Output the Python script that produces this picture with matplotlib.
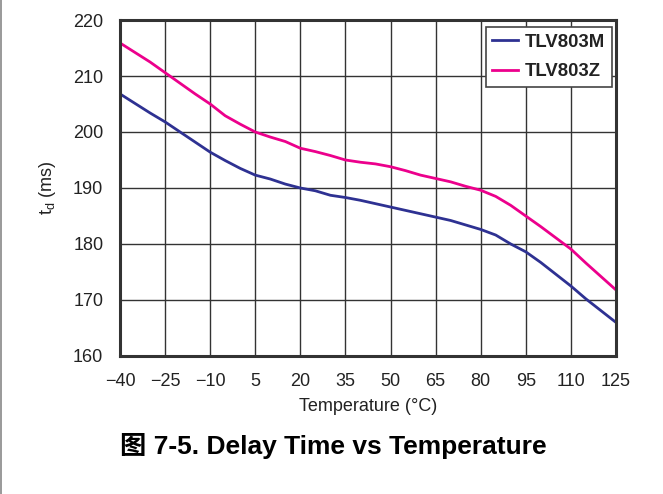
import matplotlib
matplotlib.use("Agg")
import matplotlib.pyplot as plt
from matplotlib.lines import Line2D

# data (5 degC steps)
temperature = [-40, -35, -30, -25, -20, -15, -10, -5, 0, 5, 10, 15, 20, 25, 30, 35, 40,
               45, 50, 55, 60, 65, 70, 75, 80, 85, 90, 95, 100, 105, 110, 115, 120, 125]
tlv803m = [206.8, 205.1, 203.4, 201.8, 200.0, 198.2, 196.4, 194.9, 193.5, 192.3, 191.6,
           190.7, 190.0, 189.5, 188.7, 188.3, 187.8, 187.2, 186.6, 186.0, 185.4, 184.8,
           184.2, 183.4, 182.6, 181.6, 180.0, 178.6, 176.7, 174.6, 172.5, 170.2, 168.1, 166.0]
tlv803z = [215.9, 214.2, 212.5, 210.6, 208.7, 206.8, 205.0, 202.9, 201.4, 200.0, 199.1,
           198.3, 197.1, 196.5, 195.8, 195.0, 194.6, 194.3, 193.8, 193.1, 192.3, 191.7,
           191.1, 190.3, 189.6, 188.5, 186.9, 185.0, 183.1, 181.1, 179.1, 176.6, 174.2, 171.8]

x_ticks = [-40, -25, -10, 5, 20, 35, 50, 65, 80, 95, 110, 125]
x_labels = ['\u221240', '\u221225', '\u221210', '5', '20', '35', '50', '65', '80', '95', '110', '125']
y_ticks = [160, 170, 180, 190, 200, 210, 220]

plt.rcParams['font.family'] = ['Liberation Sans', 'Noto Sans CJK SC', 'DejaVu Sans']

fig = plt.figure(figsize=(6.63, 4.94), dpi=100)
ax = fig.add_axes([0.181, 0.2794, 0.748, 0.6801])

ax.plot(temperature, tlv803m, color='#2e3192', linewidth=2.0, label='TLV803M')
ax.plot(temperature, tlv803z, color='#ec008c', linewidth=2.0, label='TLV803Z')

ax.set_xlim(-40, 125)
ax.set_ylim(160, 220)
ax.set_xticks(x_ticks)
ax.set_xticklabels(x_labels)
ax.set_yticks(y_ticks)
ax.tick_params(length=0, labelsize=13, colors='#222222')
ax.tick_params(axis='y', pad=12)
ax.tick_params(axis='x', pad=12)

ax.grid(True, color='#333333', linewidth=1.0)
ax.set_axisbelow(True)
for s in ax.spines.values():
    s.set_linewidth(2.2)
    s.set_color('#333333')

ax.set_xlabel('Temperature (\u00b0C)', fontsize=13, color='#222222', labelpad=6)
ax.set_ylabel('t$_\\mathregular{d}$ (ms)', fontsize=13, color='#222222', labelpad=11)

leg = ax.legend(loc='upper right', bbox_to_anchor=(0.992, 0.979), borderaxespad=0,
                prop={'weight': 'bold', 'size': 13.3},
                fancybox=False, edgecolor='#444444', framealpha=1,
                handlelength=1.4, handletextpad=0.4, borderpad=0.35,
                labelspacing=0.7)
leg.get_frame().set_linewidth(1.2)
for t in leg.get_texts():
    t.set_color('#222222')

fig.text(0.502, 0.098, '\u56fe 7-5. Delay Time vs Temperature', ha='center', va='center',
         fontsize=19, fontweight='bold', color='black')

# thin page border on the left edge
fig.add_artist(Line2D([0.002, 0.002], [0, 1], color='#888888', linewidth=1.2,
                      transform=fig.transFigure))

fig.savefig('out.png', dpi=100)
